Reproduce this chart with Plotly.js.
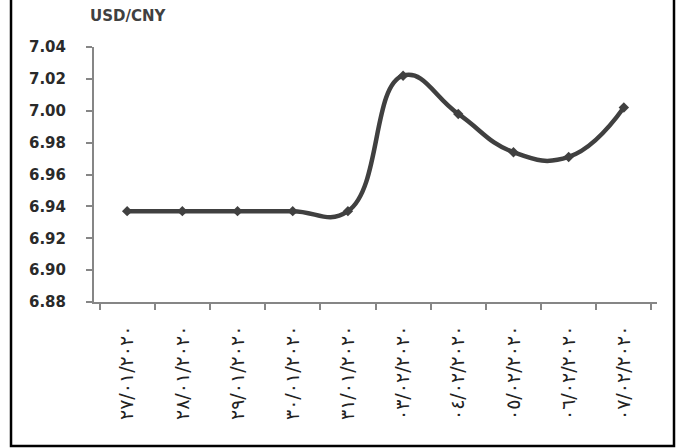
<!DOCTYPE html>
<html>
<head>
<meta charset="utf-8">
<script src="https://cdn.plot.ly/plotly-3.0.1.min.js"></script>
<style>
  html, body { margin: 0; padding: 0; background: #fff; }
  #chart { width: 676px; height: 448px; }
</style>
</head>
<body>
<div id="chart"></div>
<script>
// Daily USD/CNY rate, 27 Jan – 7 Feb 2020
const dates = [
  '٢٧/٠١/٢٠٢٠', '٢٨/٠١/٢٠٢٠', '٢٩/٠١/٢٠٢٠', '٣٠/٠١/٢٠٢٠', '٣١/٠١/٢٠٢٠',
  '٠٣/٠٢/٢٠٢٠', '٠٤/٠٢/٢٠٢٠', '٠٥/٠٢/٢٠٢٠', '٠٦/٠٢/٢٠٢٠', '٠٧/٠٢/٢٠٢٠'
];
const usdCny = [6.937, 6.937, 6.937, 6.937, 6.937, 7.022, 6.998, 6.974, 6.971, 7.002];
const unitLabel = 'USD/CNY';

const ink = '#404040';
const axisGrey = '#868686';

const trace = {
  type: 'scatter',
  mode: 'lines+markers',
  x: dates,
  y: usdCny,
  line: { color: ink, width: 4.5, shape: 'spline', smoothing: 1.3 },
  marker: { symbol: 'diamond', size: 8, color: ink },
  hoverinfo: 'x+y'
};

const layout = {
  width: 676,
  height: 448,
  margin: { l: 94, r: 19, t: 47, b: 146 },
  paper_bgcolor: '#ffffff',
  plot_bgcolor: '#ffffff',
  showlegend: false,
  xaxis: {
    type: 'category',
    tickson: 'boundaries',
    ticks: 'outside',
    ticklen: 6,
    tickwidth: 2,
    tickcolor: axisGrey,
    showline: true,
    linecolor: axisGrey,
    linewidth: 2,
    showgrid: false,
    zeroline: false,
    tickangle: -90,
    tickfont: { family: 'DejaVu Sans', size: 19, color: '#222222' },
    ticklabelstandoff: 14
  },
  yaxis: {
    range: [6.88, 7.04],
    dtick: 0.02,
    tick0: 6.88,
    tickformat: '.2f',
    ticks: 'outside',
    ticklen: 6,
    tickwidth: 2,
    tickcolor: axisGrey,
    showline: true,
    linecolor: axisGrey,
    linewidth: 2,
    showgrid: false,
    zeroline: false,
    tickfont: { family: 'DejaVu Sans', size: 15, color: '#2a2a2a', weight: 'bold' },
    ticklabelstandoff: 17
  },
  annotations: [{
    text: unitLabel,
    xref: 'paper', yref: 'paper',
    x: -0.011, y: 1.12,
    xanchor: 'left', yanchor: 'middle',
    showarrow: false,
    font: { family: 'DejaVu Sans', size: 15, color: ink, weight: 'bold' }
  }],
  shapes: [{
    // outer frame around the whole chart
    type: 'rect',
    xref: 'paper', yref: 'paper',
    x0: -0.1474, x1: 1.0302,
    y0: -0.5647, y1: 1.25,
    line: { color: '#000000', width: 2.5 },
    fillcolor: 'rgba(0,0,0,0)',
    layer: 'below'
  }]
};

Plotly.newPlot('chart', [trace], layout, { displayModeBar: false, staticPlot: true });
</script>
</body>
</html>
